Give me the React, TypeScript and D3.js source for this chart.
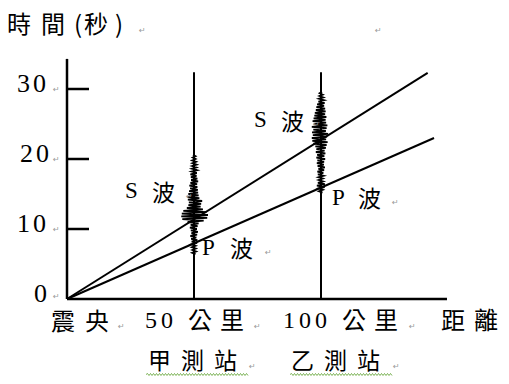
import React from "react";
import * as d3 from "d3";

// ---- data ----
const yTickValues = [0, 10, 20, 30];
const stationDistances = [50, 100];
const distanceLabels = ["50", "100"];
const stationNames = ["甲測站", "乙測站"];
// travel-time lines (distance km, time s)
const sWaveDist = [0, 142];
const sWaveTime = [0, 32.3];
const pWaveDist = [0, 144.5];
const pWaveTime = [0, 23];
const stationTopTime = 32.4;
const yAxisTopTime = 34.3;
const xAxisEndDist = 149.6;
// seismogram samples (horizontal offsets in km), time step 0.2 s
const traceStep = 0.2;
const traceAStart = 6.4;
const traceA = [
  0.6, -0.7, 0.8, -0.6, 0.7, -0.8, 0.6,
  -1.0, 1.2, -0.9, 1.3, -1.1, 0.9, -1.4, 1.2, -1.0, 1.5, -1.2, 1.1, -1.6, 1.4, -1.3, 1.8,
  -2.5, 3.8, -4.6, 5.2, -5.0, 5.5, -4.8, 4.9, -4.2, 3.5, -2.8,
  2.6, -2.2, 2.8, -2.0, 3.2, -2.4, 2.1, -2.6, 1.8, -2.2, 1.6, -1.9, 1.5,
  -1.5, 1.3, -1.8, 1.2, -1.4, 1.6, -1.1, 1.3, -1.2, 1.0, -1.4, 1.1, -0.9, 1.2,
  -0.8, 0.9, -0.7, 1.0, -0.6, 0.8, -0.7, 0.6, -0.5, 0.6, -0.4,
];
const traceBStart = 15.2;
const traceB = [
  0.6, -0.8, 0.7, -0.9, 1.4, -1.6, 1.5, -1.2, 0.8, -0.9, 0.7, -1.0,
  1.0, -1.2, 0.9, -1.4, 1.2, -1.0, 1.5, -1.3, 1.1, -1.6, 1.2, -1.4, 1.6, -1.8, 1.3, -1.5, 1.7, -2.0, 1.4, -1.8, 1.9, -2.2,
  2.2, -3.0, 2.6, -3.4, 2.0, -3.6, 2.4, -3.2, 2.8, -3.5, 1.9, -3.0, 2.2, -3.6, 2.5, -2.8, 2.0, -3.3, 1.8, -2.9, 2.1, -2.6, 1.6, -2.4, 1.8, -2.0,
  1.6, -1.8, 1.2, -1.5, 1.4, -1.0, 1.2, -0.8, 0.9, -0.6, 0.7, -0.5, 0.4,
];

const W = 509;
const H = 384;
const SERIF = "'Liberation Serif', 'Times New Roman', serif";
const CJK = "'Noto Sans CJK TC', 'Noto Sans CJK SC', sans-serif";
const MARK = "'DejaVu Sans', sans-serif";

const x = d3.scaleLinear().domain([0, 100]).range([67, 321]);
const y = d3.scaleLinear().domain([0, 30]).range([299, 89]);

function Mark({ px, py }: { px: number; py: number }) {
  return (
    <text x={px} y={py} fontFamily={MARK} fontSize={8} fill="#999">
      ↵
    </text>
  );
}

function wavyPath(x0: number, x1: number, yy: number) {
  let d = `M${x0},${yy}`;
  let up = true;
  for (let xx = x0 + 1.5; xx <= x1; xx += 1.5) {
    d += ` L${xx},${up ? yy - 1 : yy + 1}`;
    up = !up;
  }
  return d;
}

export default function App() {
  const lineGen = d3
    .line<[number, number]>()
    .x((d) => x(d[0]))
    .y((d) => y(d[1]));
  const sPts: [number, number][] = sWaveDist.map((d, i) => [d, sWaveTime[i]]);
  const pPts: [number, number][] = pWaveDist.map((d, i) => [d, pWaveTime[i]]);
  const traceLine = (station: number, start: number, vals: number[]) =>
    d3
      .line<number>()
      .x((v) => x(station + v))
      .y((_, i) => y(start + i * traceStep))(vals) as string;

  return (
    <svg
      width={W}
      height={H}
      style={{ position: "absolute", left: 0, top: 0, background: "#fff" }}
    >
      <rect width={W} height={H} fill="#fff" />
      {/* title */}
      <text y={33} fontFamily={CJK} fontSize={24} fill="#000">
        <tspan x={7}>時</tspan>
        <tspan x={41}>間</tspan>
        <tspan x={74}>(</tspan>
        <tspan x={84}>秒</tspan>
        <tspan x={115}>)</tspan>
      </text>
      <Mark px={139} py={33} />
      <Mark px={375} py={33} />

      {/* axes */}
      <line x1={x(0)} x2={x(0)} y1={y(0)} y2={y(yAxisTopTime)} stroke="#000" strokeWidth={2.5} />
      <line x1={x(0)} x2={x(xAxisEndDist)} y1={y(0)} y2={y(0)} stroke="#000" strokeWidth={2.5} />
      {yTickValues.map((v) => (
        <g key={v}>
          {v > 0 && (
            <line x1={x(0)} x2={x(0) + 22} y1={y(v)} y2={y(v)} stroke="#000" strokeWidth={2.5} />
          )}
          <text
            x={v === 0 ? 34 : v === 20 ? 20 : 17}
            y={y(v) + 3}
            fontFamily={SERIF}
            fontSize={26}
            letterSpacing={v === 0 ? 0 : 3}
            fill="#000"
          >
            {String(v)}
          </text>
          <Mark px={53} py={v === 0 ? y(v) : y(v) + 3} />
        </g>
      ))}

      {/* station lines */}
      {stationDistances.map((s) => (
        <line key={s} x1={x(s)} x2={x(s)} y1={y(0)} y2={y(stationTopTime)} stroke="#000" strokeWidth={2} />
      ))}

      {/* seismograms */}
      <path d={traceLine(stationDistances[0], traceAStart, traceA)} fill="none" stroke="#000" strokeWidth={1.8} />
      <path d={traceLine(stationDistances[1], traceBStart, traceB)} fill="none" stroke="#000" strokeWidth={1.8} />

      {/* travel-time lines */}
      <path d={lineGen(sPts) as string} fill="none" stroke="#000" strokeWidth={2} />
      <path d={lineGen(pPts) as string} fill="none" stroke="#000" strokeWidth={2} />

      {/* wave labels */}
      <text x={x(50) - 69} y={198} fontFamily={SERIF} fontSize={23} fill="#000">S</text>
      <text x={x(50) - 42} y={201} fontFamily={CJK} fontSize={23} fill="#000">波</text>
      <Mark px={x(50) - 8} py={199} />
      <text x={x(50) + 8} y={255} fontFamily={SERIF} fontSize={23} fill="#000">P</text>
      <text x={x(50) + 36} y={257} fontFamily={CJK} fontSize={23} fill="#000">波</text>
      <Mark px={x(50) + 71} py={255} />

      <text x={x(100) - 67} y={127} fontFamily={SERIF} fontSize={23} fill="#000">S</text>
      <text x={x(100) - 40} y={130} fontFamily={CJK} fontSize={23} fill="#000">波</text>
      <Mark px={x(100) - 8} py={127} />
      <text x={x(100) + 11} y={205} fontFamily={SERIF} fontSize={23} fill="#000">P</text>
      <text x={x(100) + 37} y={207} fontFamily={CJK} fontSize={23} fill="#000">波</text>
      <Mark px={x(100) + 71} py={205} />

      {/* x labels */}
      <text x={51} y={330} fontFamily={CJK} fontSize={24} letterSpacing={10} fill="#000">震央</text>
      <Mark px={118} py={329} />
      {stationDistances.map((s, i) => (
        <g key={s}>
          <text
            x={x(s) - (i === 0 ? 49 : 38)}
            y={328}
            fontFamily={SERIF}
            fontSize={24}
            letterSpacing={4}
            fill="#000"
          >
            {distanceLabels[i]}
          </text>
          <text x={x(s) + (i === 0 ? -6 : 21)} y={329} fontFamily={CJK} fontSize={24} letterSpacing={8} fill="#000">
            公里
          </text>
          <Mark px={x(s) + (i === 0 ? 60 : 88)} py={329} />
          <text x={x(s) + (i === 0 ? -46 : -30)} y={369} fontFamily={CJK} fontSize={23} letterSpacing={10} fill="#000">
            {stationNames[i]}
          </text>
          <Mark px={x(s) + (i === 0 ? 55 : 72)} py={369} />
          <path
            d={wavyPath(x(s) + (i === 0 ? -48 : -31), x(s) + (i === 0 ? 54 : 71), 374.5)}
            fill="none"
            stroke="#5aa02c"
            strokeWidth={0.8}
          />
        </g>
      ))}
      <text x={441} y={329} fontFamily={CJK} fontSize={24} letterSpacing={9} fill="#000">距離</text>
    </svg>
  );
}
